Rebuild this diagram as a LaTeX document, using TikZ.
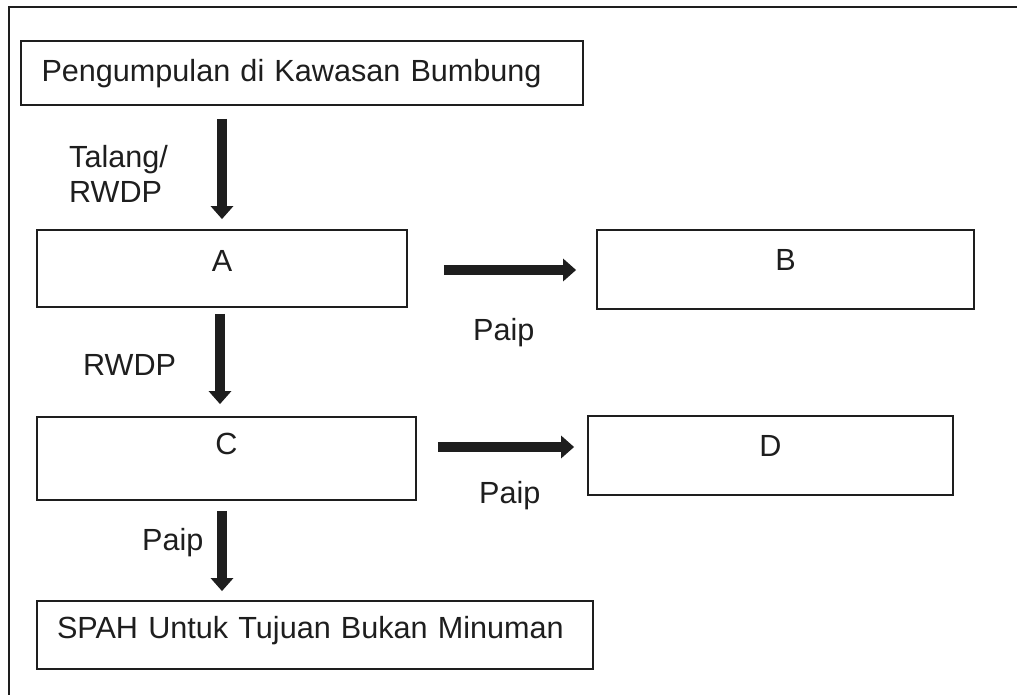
\documentclass[tikz,border=0pt]{standalone}
\usepackage{fontspec}
\setmainfont{Liberation Sans}
\usetikzlibrary{arrows.meta}
\definecolor{ink}{HTML}{1E1E1E}
\begin{document}
\begin{tikzpicture}[x=1pt,y=-1pt,
  every node/.style={font=\fontsize{30.6}{35}\selectfont, text=ink},
  box/.style={draw=ink, line width=1.8pt, rectangle, inner xsep=0pt, inner ysep=0pt, text height=21.9pt},
  wide/.style={box, align=left},
  lbl/.style={inner sep=0pt, anchor=base west},
  flow/.style={draw=ink, line width=10pt, -{Triangle[length=13pt,width=22pt]}},
  frame/.style={draw=ink, line width=2pt}
]
\useasboundingbox (0,0) rectangle (1017,695);
% outer frame (cropped)
\coordinate (fl) at (9,695);
\coordinate (fc) at (9,7);
\coordinate (fr) at (1017,7);
\draw[frame] (fl) -- (fc) -- (fr);

% boxes
\node[wide, text width=521pt, inner xsep=20.5pt, minimum height=64pt, text depth=3.9pt] (top) at (302,73) {Pengumpulan di Kawasan Bumbung};
\node[box, minimum width=370pt, minimum height=77pt, text depth=16.4pt] (A) at (222,268.5) {A};
\node[box, minimum width=377pt, minimum height=79pt, text depth=19.4pt] (B) at (785.5,269.5) {B};
\node[box, minimum width=379pt, minimum height=83pt, text depth=29.4pt] (C) at (226.5,458.5) {C};
\node[box, minimum width=365pt, minimum height=79pt, text depth=19.4pt] (D) at (770.5,455.5) {D};
\node[wide, text width=516pt, inner xsep=20pt, minimum height=68pt, text depth=15.9pt] (S) at (315,635) {SPAH Untuk Tujuan Bukan Minuman};

% labels
\node[inner sep=0pt, anchor=north west, align=left] (lt) at (69,145.2) {Talang/\\RWDP};
\node[lbl] (lr) at (83,375) {RWDP};
\node[lbl] (lp1) at (473,340) {Paip};
\node[lbl] (lp2) at (479,503) {Paip};
\node[lbl] (lp3) at (142,550) {Paip};

% connectors
\coordinate (v1) at (222,0);
\coordinate (v2) at (220,0);
\coordinate (v3) at (222,0);
\coordinate (h1) at (0,270);
\coordinate (h2) at (0,447);
\draw[flow, shorten <=13pt, shorten >=10pt] (top.south -| v1) -- (A.north -| v1);
\draw[flow, shorten <=6pt, shorten >=12pt] (A.south -| v2) -- (C.north -| v2);
\draw[flow, shorten <=10pt, shorten >=9pt] (C.south -| v3) -- (S.north -| v3);
\draw[flow, shorten <=36pt, shorten >=20pt] (A.east |- h1) -- (B.west |- h1);
\draw[flow, shorten <=21pt, shorten >=13pt] (C.east |- h2) -- (D.west |- h2);
\end{tikzpicture}
\end{document}
